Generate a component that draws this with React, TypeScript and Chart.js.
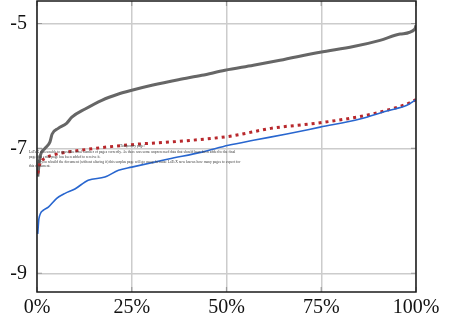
import React, { useEffect, useRef } from "react";
import { Chart, registerables } from "chart.js";

Chart.register(...registerables);

const xTicks = [0, 25, 50, 75, 100];
const yTicks = [-9, -7, -5];

const grayX = [0.2, 0.8, 2.1, 3.4, 4.0, 5.6, 7.8, 9.2, 12.7, 17.1, 21.5, 25, 30.3, 37.3, 43.5, 49.6, 57.1, 64.1, 74.7, 83.5, 90.5, 95.8, 99.7, 100];
const grayY = [-7.45, -7.14, -7.0, -6.9, -6.77, -6.68, -6.6, -6.5, -6.37, -6.23, -6.13, -6.07, -5.99, -5.9, -5.83, -5.75, -5.67, -5.59, -5.46, -5.37, -5.27, -5.17, -5.09, -5.03];

const redX = [0.2, 0.8, 2.1, 4.7, 12.7, 25, 39.1, 51.5, 61.7, 74.7, 85.2, 92.3, 97.6, 100];
const redY = [-7.4, -7.24, -7.16, -7.1, -7.02, -6.94, -6.88, -6.8, -6.68, -6.59, -6.49, -6.39, -6.29, -6.22];

const blueX = [0.2, 0.5, 1.7, 3.0, 5.2, 7.4, 10.0, 13.5, 17.9, 21.5, 25, 34.7, 43.5, 50.5, 57.1, 65.9, 74.7, 85.2, 92.3, 97.6, 100];
const blueY = [-8.37, -8.13, -7.99, -7.94, -7.8, -7.72, -7.65, -7.51, -7.46, -7.35, -7.3, -7.17, -7.06, -6.95, -6.87, -6.77, -6.66, -6.53, -6.4, -6.31, -6.22];

const noteTitle = "Temporary page!";
const noteLines = [
  "LaTeX was unable to guess the total number of pages correctly. As there was some unprocessed data that should have been added to the final",
  "page this extra page has been added to receive it.",
  "If you rebuild the document (without altering it) this surplus page will go away, because LaTeX now knows how many pages to expect for",
  "this document.",
];

const toPts = (xs: number[], ys: number[]) => xs.map((x, i) => ({ x, y: ys[i] }));

const framePlugin = {
  id: "frame",
  afterDatasetsDraw(chart: any) {
    const { ctx, chartArea: a, scales } = chart;
    ctx.save();
    ctx.strokeStyle = "#9a9a9a";
    ctx.lineWidth = 1.2;
    for (const v of yTicks) {
      const y = scales.y.getPixelForValue(v);
      ctx.beginPath();
      ctx.moveTo(a.left, y); ctx.lineTo(a.left + 5, y);
      ctx.moveTo(a.right, y); ctx.lineTo(a.right - 5, y);
      ctx.stroke();
    }
    for (const v of xTicks) {
      const x = scales.x.getPixelForValue(v);
      ctx.beginPath();
      ctx.moveTo(x, a.bottom); ctx.lineTo(x, a.bottom - 5);
      ctx.moveTo(x, a.top); ctx.lineTo(x, a.top + 5);
      ctx.stroke();
    }
    ctx.strokeStyle = "#1a1a1a";
    ctx.lineWidth = 1.5;
    ctx.strokeRect(a.left, a.top, a.right - a.left, a.bottom - a.top);
    ctx.restore();
  },
  afterDraw(chart: any) {
    const { ctx } = chart;
    ctx.save();
    ctx.fillStyle = "#3a3a3a";
    ctx.textBaseline = "middle";
    ctx.font = "10px 'Liberation Serif'";
    const m = ctx.measureText(noteLines[0]).width;
    const fs = (10 * 207) / m;
    ctx.font = `${fs}px 'Liberation Serif'`;
    ctx.fillText(noteTitle, 120, 146.5);
    const pos = [
      [29, 152.3],
      [29, 157],
      [38, 161.8],
      [29, 166.3],
    ];
    noteLines.forEach((t, i) => ctx.fillText(t, pos[i][0], pos[i][1]));
    ctx.restore();
  },
};

export default function App() {
  const ref = useRef<HTMLCanvasElement>(null);
  useEffect(() => {
    document.body.style.margin = "0";
    const common = { pointRadius: 0, cubicInterpolationMode: "monotone" as const };
    const chart = new Chart(ref.current!, {
      type: "line",
      data: {
        datasets: [
          { data: toPts(blueX, blueY), borderColor: "#2866cf", borderWidth: 1.6, ...common },
          { data: toPts(redX, redY), borderColor: "#b8282c", borderWidth: 3, borderDash: [3, 4], ...common },
          { data: toPts(grayX, grayY), borderColor: "#666666", borderWidth: 3, ...common },
        ],
      },
      options: {
        responsive: false,
        animation: false,
        layout: { padding: { top: 1, right: 34, left: 0, bottom: 0 } },
        plugins: { legend: { display: false }, tooltip: { enabled: false } },
        scales: {
          x: {
            type: "linear",
            min: 0,
            max: 100,
            afterBuildTicks: (s: any) => { s.ticks = xTicks.map((v) => ({ value: v })); },
            afterFit: (s: any) => { s.height = 33; s.paddingLeft = 0; s.paddingRight = 0; },
            grid: { color: "#cccccc", lineWidth: 1.5, drawTicks: false },
            border: { display: false },
            ticks: {
              color: "#111",
              padding: 4,
              maxRotation: 0,
              font: { family: "'Liberation Serif'", size: 20 },
              callback: (v: any) => `${v}%`,
            },
          },
          y: {
            type: "linear",
            min: -9.3,
            max: -4.64,
            afterBuildTicks: (s: any) => { s.ticks = yTicks.map((v) => ({ value: v })); },
            afterFit: (s: any) => { s.width = 37; s.paddingTop = 0; s.paddingBottom = 0; },
            grid: { color: "#cccccc", lineWidth: 1.5, drawTicks: false },
            border: { display: false },
            ticks: {
              color: "#111",
              padding: 10,
              font: { family: "'Liberation Serif'", size: 20 },
            },
          },
        },
      },
      plugins: [framePlugin],
    });
    return () => chart.destroy();
  }, []);
  return <canvas ref={ref} width={450} height={325} style={{ display: "block" }} />;
}
